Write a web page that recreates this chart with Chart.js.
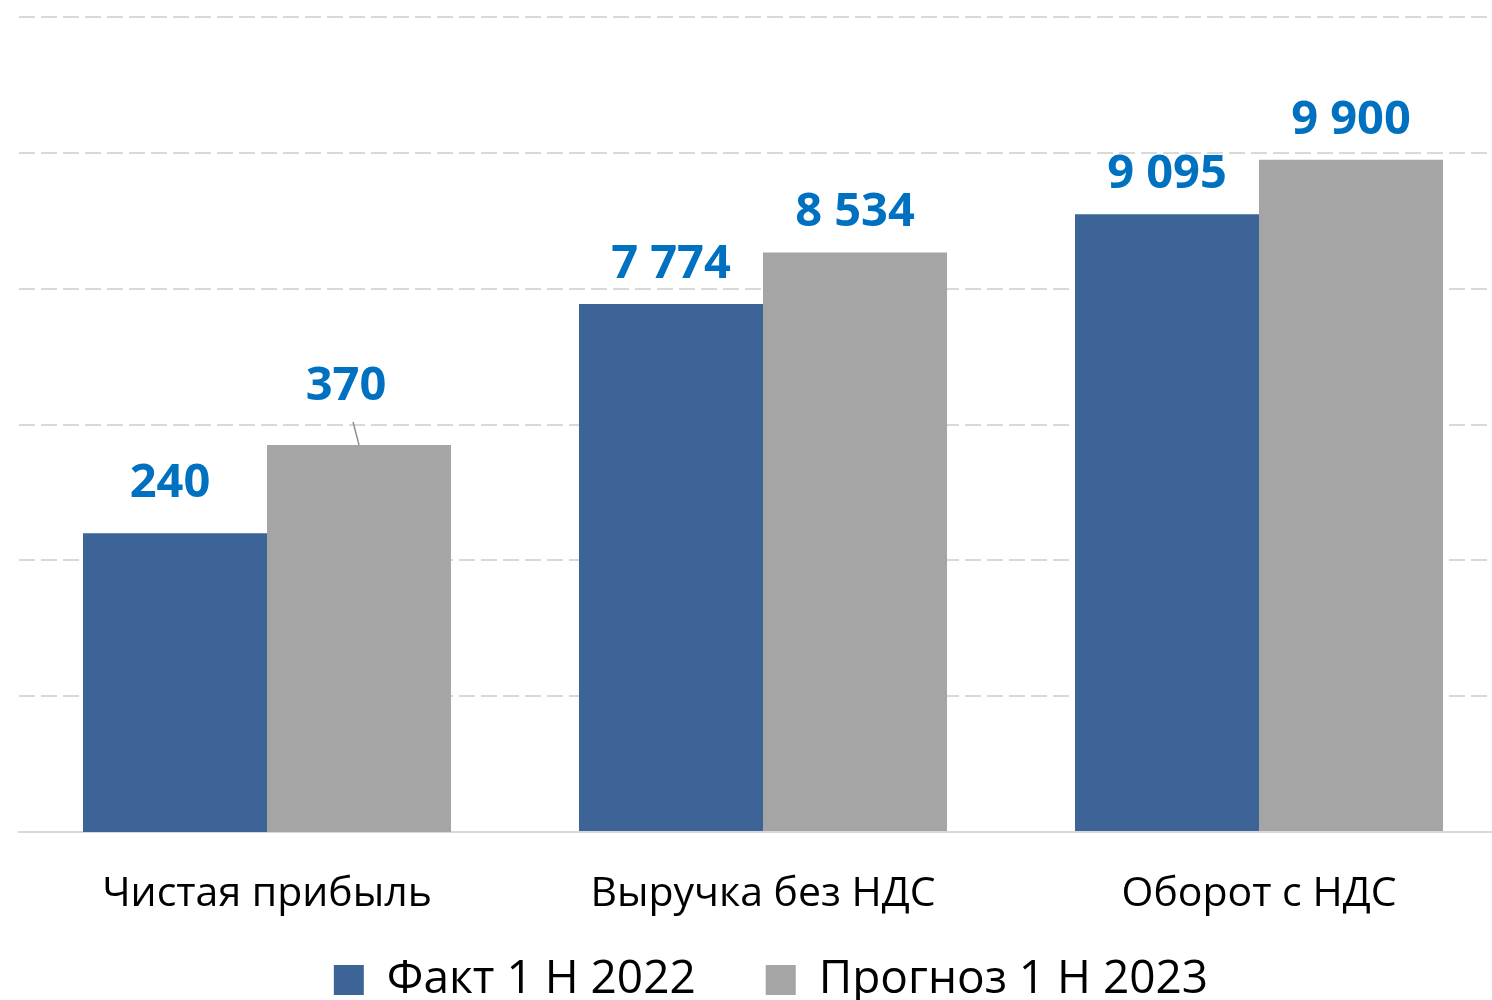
<!DOCTYPE html>
<html>
<head>
<meta charset="utf-8">
<script src="https://cdn.jsdelivr.net/npm/chart.js@4.4.1/dist/chart.umd.min.js"></script>
<style>
    html, body { margin: 0; padding: 0; background: #fff; overflow: hidden; }
    #wrap { position: relative; width: 1508px; height: 1053px; }
</style>
</head>
<body>
<div id="wrap"><canvas id="pokazateliChart"></canvas></div>
<script>
// Данные
const categories = ['Чистая прибыль', 'Выручка без НДС', 'Оборот с НДС'];
const seriesNames = ['Факт 1 Н 2022', 'Прогноз 1 Н 2023'];
const fakt2022 = [240, 7774, 9095];
const prognoz2023 = [370, 8534, 9900];
// прибыль рисуется по своей (скрытой) оси
const onProfitAxis = [true, false, false];
const profitAxisMin = -200;
const profitAxisMax = 1000;

const colorFakt = '#3D6496';
const colorPrognoz = '#A5A5A5';

function fmt(v) {
    return String(v).replace(/\B(?=(\d{3})+(?!\d))/g, ' ');
}

function pick(values, secondary) {
    return values.map((v, i) => onProfitAxis[i] === secondary ? v : null);
}

// сдвиги подписей (px), где в оригинале их двигали вручную
const labelNudge = {
    '2-0': { dx: -5, dy: -10 },
    '3-0': { dx: -13, dy: -19, leader: true }
};

const dataLabels = {
    id: 'dataLabels',
    afterDatasetsDraw(chart) {
        const ctx = chart.ctx;
        ctx.save();
        ctx.font = 'bold 47px "Open Sans"';
        ctx.fillStyle = '#0070C0';
        ctx.textAlign = 'center';
        ctx.textBaseline = 'alphabetic';
        chart.data.datasets.forEach((ds, di) => {
            const meta = chart.getDatasetMeta(di);
            meta.data.forEach((bar, i) => {
                const v = ds.data[i];
                if (v === null || v === undefined) return;
                const n = labelNudge[di + '-' + i] || { dx: 0, dy: 0 };
                const x = bar.x + n.dx;
                const y = bar.y - 26 + n.dy;
                ctx.fillText(fmt(v), x, y);
                if (n.leader) {
                    ctx.strokeStyle = '#8c8c8c';
                    ctx.lineWidth = 1.5;
                    ctx.beginPath();
                    ctx.moveTo(bar.x - 6, y + 22);
                    ctx.lineTo(bar.x, bar.y);
                    ctx.stroke();
                }
            });
        });
        ctx.restore();
    }
};

// легенда в оригинале ближе к подписям категорий
const legendLift = {
    id: 'legendLift',
    afterLayout(chart) {
        chart.legend.top -= 40;
        chart.legend.bottom -= 40;
        chart.legend.left += 8;
        chart.legend.right += 8;
    }
};

const ctx = document.getElementById('pokazateliChart').getContext('2d');
const pokazateliChart = new Chart(ctx, {
    type: 'bar',
    data: {
        labels: categories,
        datasets: [
            { label: seriesNames[0], data: pick(fakt2022, false), backgroundColor: colorFakt, yAxisID: 'y' },
            { label: seriesNames[1], data: pick(prognoz2023, false), backgroundColor: colorPrognoz, yAxisID: 'y' },
            { label: seriesNames[0], data: pick(fakt2022, true), backgroundColor: colorFakt, yAxisID: 'y2', base: profitAxisMin },
            { label: seriesNames[1], data: pick(prognoz2023, true), backgroundColor: colorPrognoz, yAxisID: 'y2', base: profitAxisMin }
        ].map(d => Object.assign(d, {
            borderWidth: 0,
            skipNull: true,
            categoryPercentage: 0.742,
            barPercentage: 1
        }))
    },
    options: {
        responsive: true,
        maintainAspectRatio: false,
        animation: false,
        layout: { padding: { left: 19, right: 1, top: 17, bottom: 0 } },
        plugins: {
            tooltip: { enabled: false },
            legend: {
                position: 'bottom',
                labels: {
                    filter: (item) => item.datasetIndex < 2,
                    boxWidth: 30,
                    boxHeight: 30,
                    padding: 70,
                    color: '#000',
                    font: { family: '"Open Sans"', size: 46 }
                }
            }
        },
        scales: {
            x: {
                grid: { display: false },
                border: { display: true, color: '#d9d9d9', width: 2 },
                ticks: {
                    color: '#000',
                    padding: 30,
                    font: { family: '"Open Sans"', size: 41 }
                },
                afterFit: (scale) => { scale.height = 95; }
            },
            y: {
                min: 0,
                max: 12000,
                ticks: { display: false, stepSize: 2000 },
                grid: { color: '#d9d9d9', lineWidth: 2, drawTicks: false },
                border: { display: false, dash: [16, 6] }
            },
            y2: {
                display: false,
                min: profitAxisMin,
                max: profitAxisMax
            }
        }
    },
    plugins: [dataLabels, legendLift]
});
</script>
</body>
</html>
